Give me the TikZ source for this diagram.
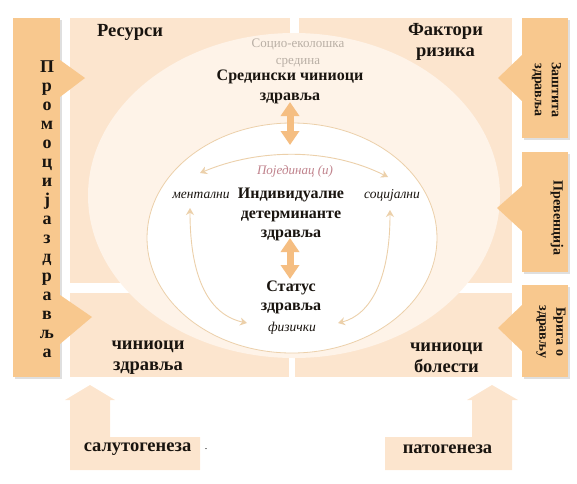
\documentclass[tikz,border=0pt]{standalone}
\usepackage{fontspec}
\setmainfont{Liberation Serif}
\usetikzlibrary{arrows.meta,shadows,shapes.geometric}
\definecolor{barc}{RGB}{248,200,142}
\definecolor{quadc}{RGB}{252,229,206}
\definecolor{ellc}{RGB}{254,243,232}
\definecolor{thinc}{RGB}{236,208,170}
\definecolor{thickc}{RGB}{245,190,130}
\definecolor{pinkt}{RGB}{192,130,140}
\definecolor{grayt}{RGB}{185,175,165}
\definecolor{txt}{RGB}{25,20,15}
\begin{document}
\begin{tikzpicture}[x=1pt,y=-1pt,
  barbox/.style={fill=barc,draw=none,inner sep=0pt,drop shadow={opacity=0.25,shadow xshift=2pt,shadow yshift=-2pt}},
  quadbox/.style={fill=quadc,draw=none,inner sep=0pt},
  head/.style={font=\bfseries\fontsize{16}{19.5}\selectfont,text=txt,align=center,inner sep=0pt},
  corner/.style={font=\bfseries\fontsize{18.5}{21}\selectfont,text=txt,align=center,inner sep=0pt},
  side/.style={font=\bfseries\fontsize{14}{17}\selectfont,text=txt,align=center,inner sep=0pt,rotate=-90},
  lab/.style={font=\itshape\fontsize{13.5}{15}\selectfont,text=txt,inner sep=0pt},
  thickarr/.style={draw=thickc,line width=7pt,{Triangle[width=18pt,length=14pt]}-{Triangle[width=18pt,length=14pt]}},
  thinarr/.style={draw=thinc,line width=0.9pt,{Stealth[length=7pt,width=8pt]}-{Stealth[length=7pt,width=8pt]}}
]
\useasboundingbox (0,0) rectangle (577,483);
% quadrants
\node[quadbox,minimum width=220pt,minimum height=265pt] (tl) at (180,150.5) {};
\node[quadbox,minimum width=213pt,minimum height=265pt] (tr) at (405.5,150.5) {};
\node[quadbox,minimum width=219pt,minimum height=84pt] (bl) at (179.5,335) {};
\node[quadbox,minimum width=217pt,minimum height=84pt] (br) at (403.5,335) {};
% ellipses
\node[ellipse,fill=ellc,draw=none,minimum width=412pt,minimum height=325pt,inner sep=0pt] (outer) at (294,195.5) {};
\node[ellipse,fill=white,draw=thinc,line width=0.8pt,minimum width=290pt,minimum height=230pt,inner sep=0pt] (inner) at (292,238) {};
% left bar
\node[barbox,minimum width=47pt,minimum height=359pt] (promo) at (36.5,197.5) {};
\fill[barc] (60,60) -- (85,78) -- (60,97) -- cycle;
\fill[barc] (60,295) -- (92,317) -- (60,344) -- cycle;
\node[font=\bfseries\fontsize{18}{19}\selectfont,text=txt,align=center,inner sep=0pt] (promotxt) at (47,209.5) {П\\р\\о\\м\\о\\ц\\и\\ј\\а\\з\\д\\р\\а\\в\\љ\\а};
% right boxes
\node[barbox,minimum width=46pt,minimum height=120pt] (zast) at (545,78) {};
\node[barbox,minimum width=46pt,minimum height=120pt] (prev) at (545,212) {};
\node[barbox,minimum width=46pt,minimum height=92pt] (briga) at (545,331) {};
\fill[barc] (522,55) -- (498,78) -- (522,101) -- cycle;
\fill[barc] (522,186) -- (497,208) -- (522,231) -- cycle;
\fill[barc] (522,305) -- (498,328) -- (522,351) -- cycle;
\node[side] (zastt) at (546.5,90) {Заштита\\здравља};
\node[side] (prevt) at (557,218) {Превенција};
\node[side] (brigat) at (551,332) {Брига о\\здрављу};
% bottom arrows
\fill[quadc] (70,470) -- (200,470) -- (200,437) -- (110,437) -- (110,400) -- (115,400) -- (90,385) -- (65,400) -- (70,400) -- cycle;
\fill[quadc] (385,470) -- (512,470) -- (512,400) -- (518,400) -- (492,385) -- (467,400) -- (472,400) -- (472,437) -- (385,437) -- cycle;
\node[corner] (salut) at (137.5,449) {салутогенеза};
\node[font=\fontsize{10}{12}\selectfont,inner sep=0pt] (dot) at (206,449) {.};
\node[corner] (pato) at (447.5,449) {патогенеза};
% corner texts
\node[corner] (res) at (130,32) {Ресурси};
\node[corner] (fakt) at (445.5,41.5) {Фактори\\ризика};
\node[corner] (chz) at (148,357.5) {чиниоци\\здравља};
\node[corner] (chb) at (446.5,357.5) {чиниоци\\болести};
% central texts
\node[font=\fontsize{13}{17}\selectfont,text=grayt,align=center,inner sep=0pt] (socio) at (298,53) {Социо-еколошка\\средина};
\node[head] (sred) at (290,87) {Средински чиниоци\\здравља};
\node[font=\itshape\fontsize{13}{15}\selectfont,text=pinkt,inner sep=0pt] (poj) at (295,171) {Појединац (и)};
\node[head] (ind) at (291,214.5) {Индивидуалне\\детерминанте\\здравља};
\node[lab] (ment) at (201,195) {ментални};
\node[lab] (soc) at (392,195) {социјални};
\node[head] (stat) at (291,297.5) {Статус\\здравља};
\node[lab] (fiz) at (292,328) {физички};
% thick arrows
\coordinate (a1) at (290,102);
\coordinate (a2) at (290,145);
\coordinate (b1) at (290,238);
\coordinate (b2) at (290,279);
\draw[thickarr] (a1) -- (a2);
\draw[thickarr] (b1) -- (b2);
% thin arc arrows
\coordinate (tL) at (200,173);
\coordinate (tR) at (388,177);
\coordinate (lT) at (190,208);
\coordinate (lB) at (247,323);
\coordinate (rT) at (390,210);
\coordinate (rB) at (338,323);
\draw[thinarr] (tL) .. controls (260,148) and (330,148) .. (tR);
\draw[thinarr] (lT) .. controls (190,280) and (210,315) .. (lB);
\draw[thinarr] (rT) .. controls (390,280) and (370,315) .. (rB);
\end{tikzpicture}
\end{document}
